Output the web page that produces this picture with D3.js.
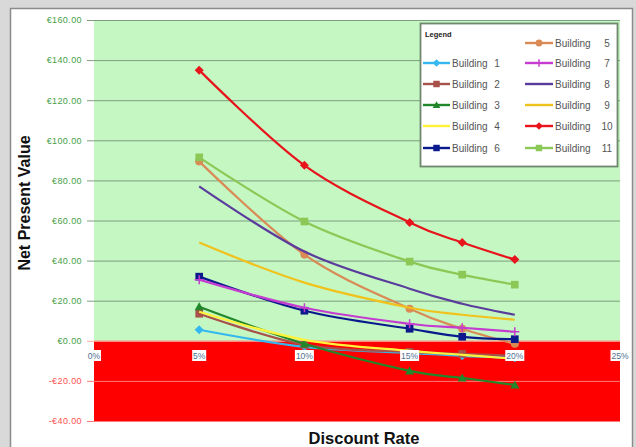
<!DOCTYPE html>
<html>
<head>
<meta charset="utf-8">
<script src="https://cdn.jsdelivr.net/npm/d3@7"></script>
<style>
  html, body { margin: 0; padding: 0; background: #d9d9d9; }
  svg { display: block; font-family: "Liberation Sans", Arial, sans-serif; }
</style>
</head>
<body>
<svg id="chart" width="636" height="447"></svg>
<script>
// Discount rates (%) at which each building's NPV was evaluated
const rates = [5, 10, 15, 17.5, 20];

// Net present value (€) per building
const building1  = [5.5, -3, -6, -7.5, -8.5];
const building2  = [13.5, -2, -5.5, -6.5, -7.5];
const building3  = [17, -1.5, -15, -18.5, -22];
const building4  = [14.5, 0.5, -5, -7, -9];
const building5  = [89.5, 43, 16, 6, -1.5];
const building6  = [32, 15, 6, 2, 0.8];
const building7  = [30.5, 16.5, 8.5, 6.5, 4.5];
const building8  = [77, 44.5, 26, 18.5, 13];
const building9  = [49, 29, 16.5, 13, 10.5];
const building10 = [135, 87.5, 59, 49, 40.5];
const building11 = [91.5, 59.5, 39.5, 33, 28];

const xTicks = [0, 5, 10, 15, 20, 25];
const yTicks = [-40, -20, 0, 20, 40, 60, 80, 100, 120, 140, 160];

// Legend layout order: left column then right column
const series = [
  { name: "Building 1",  values: building1,  color: "#35b8f0", marker: "diamond" },
  { name: "Building 2",  values: building2,  color: "#a8504a", marker: "square" },
  { name: "Building 3",  values: building3,  color: "#22862a", marker: "triangle" },
  { name: "Building 4",  values: building4,  color: "#fff23a", marker: null },
  { name: "Building 6",  values: building6,  color: "#0a1a8c", marker: "square" },
  { name: "Building 5",  values: building5,  color: "#d98a55", marker: "circle" },
  { name: "Building 7",  values: building7,  color: "#c43cd0", marker: "plus" },
  { name: "Building 8",  values: building8,  color: "#5a3c9c", marker: null },
  { name: "Building 9",  values: building9,  color: "#f2c21c", marker: null },
  { name: "Building 10", values: building10, color: "#e8141c", marker: "diamond" },
  { name: "Building 11", values: building11, color: "#8cc855", marker: "square" }
];

// Drawing order (lower numbered series first)
const drawOrder = ["Building 1","Building 2","Building 3","Building 4","Building 5","Building 6",
                   "Building 7","Building 8","Building 9","Building 10","Building 11"];

const svg = d3.select("#chart");

// Chart area frame
svg.append("rect").attr("x", 10.5).attr("y", 8.5).attr("width", 622).attr("height", 440)
  .attr("fill", "#ffffff").attr("stroke", "#8c8c8c").attr("stroke-width", 1.5);

const plot = { left: 94, right: 620, top: 20, bottom: 421 };

const x = d3.scaleLinear().domain([0, 25]).range([plot.left, plot.right]);
const y = d3.scaleLinear().domain([-40, 160]).range([plot.bottom, plot.top]);

// Positive (green) and negative (red) value bands
svg.append("rect").attr("x", plot.left).attr("y", y(160))
  .attr("width", plot.right - plot.left).attr("height", y(0) - y(160))
  .attr("fill", "#c4f7c2");
svg.append("rect").attr("x", plot.left).attr("y", y(0))
  .attr("width", plot.right - plot.left).attr("height", y(-40) - y(0))
  .attr("fill", "#ff0000");

// Horizontal gridlines + y axis ticks
const yAxis = d3.axisLeft(y).tickValues(yTicks).tickSize(plot.right - plot.left + 7)
  .tickFormat(d => (d < 0 ? "-€" : "€") + d3.format(".2f")(Math.abs(d)));
const yg = svg.append("g").attr("transform", `translate(${plot.right},0)`).call(yAxis);
yg.select(".domain").remove();
yg.selectAll(".tick line")
  .attr("stroke", d => d < 0 ? "#ff7a7a" : (d === 0 ? "#ffb0a0" : "#7f9e80"))
  .attr("stroke-width", 1);
yg.selectAll(".tick text")
  .attr("x", -(plot.right - plot.left + 12))
  .attr("font-size", 9)
  .attr("letter-spacing", 0.4)
  .attr("fill", d => d < 0 ? "#ff5050" : "#46a046");

// Series lines
const line = d3.line()
  .x((d, i) => x(rates[i]))
  .y(d => y(d))
  .curve(d3.curveCatmullRom.alpha(0));

const byName = new Map(series.map(s => [s.name, s]));

function drawMarker(g, type, color, cx, cy, size) {
  const s = size;
  if (type === "diamond") {
    g.append("path").attr("d", `M${cx},${cy - s}L${cx + s},${cy}L${cx},${cy + s}L${cx - s},${cy}Z`)
      .attr("fill", color);
  } else if (type === "square") {
    g.append("rect").attr("x", cx - s * 0.85).attr("y", cy - s * 0.85)
      .attr("width", s * 1.7).attr("height", s * 1.7).attr("fill", color);
  } else if (type === "triangle") {
    g.append("path").attr("d", `M${cx},${cy - s}L${cx + s},${cy + s * 0.8}L${cx - s},${cy + s * 0.8}Z`)
      .attr("fill", color);
  } else if (type === "circle") {
    g.append("circle").attr("cx", cx).attr("cy", cy).attr("r", s * 0.9).attr("fill", color);
  } else if (type === "plus") {
    g.append("path").attr("d", `M${cx - s},${cy}H${cx + s}M${cx},${cy - s}V${cy + s}`)
      .attr("stroke", color).attr("stroke-width", 1.5);
  }
}

const linesG = svg.append("g");
drawOrder.forEach(name => {
  const s = byName.get(name);
  const g = linesG.append("g");
  g.append("path").datum(s.values).attr("d", line)
    .attr("fill", "none").attr("stroke", s.color).attr("stroke-width", 2.2)
    .attr("stroke-linejoin", "round");
  if (s.marker) {
    s.values.forEach((v, i) => drawMarker(g, s.marker, s.color, x(rates[i]), y(v), 4.5));
  }
});

// X axis tick labels sitting on white boxes just below zero
const xg = svg.append("g");
xTicks.forEach(t => {
  const label = t + "%";
  const w = label.length * 5 + 4;
  xg.append("rect").attr("x", x(t) - w / 2).attr("y", 350).attr("width", w).attr("height", 11)
    .attr("fill", "#ffffff");
  xg.append("text").attr("x", x(t)).attr("y", 358.5).attr("text-anchor", "middle")
    .attr("font-size", 8.5).attr("fill", "#4f6f8f").text(label);
});

// Axis titles
svg.append("text").attr("transform", "translate(30,203) rotate(-90)")
  .attr("text-anchor", "middle").attr("font-size", 16).attr("font-weight", "bold")
  .attr("fill", "#111").text("Net Present Value");
svg.append("text").attr("x", 364).attr("y", 444)
  .attr("text-anchor", "middle").attr("font-size", 16.5).attr("font-weight", "bold")
  .attr("fill", "#111").text("Discount Rate");

// Legend
const lg = svg.append("g");
lg.append("rect").attr("x", 420.5).attr("y", 23.5).attr("width", 197).attr("height", 143)
  .attr("fill", "#ffffff").attr("stroke", "#6f866f").attr("stroke-width", 1.8);
lg.append("text").attr("x", 425).attr("y", 37).attr("font-size", 7.5).attr("font-weight", "bold")
  .attr("fill", "#222").text("Legend");

const rowY = [43, 63, 84, 105, 126, 148];
const cols = [
  { lineX0: 423, lineX1: 450, textX: 452, numX: 497, rows: [1, 2, 3, 4, 5] },
  { lineX0: 525, lineX1: 553, textX: 555, numX: 607, rows: [0, 1, 2, 3, 4, 5] }
];
let idx = 0;
cols.forEach(c => {
  c.rows.forEach(r => {
    const s = series[idx++];
    const ly = rowY[r];
    lg.append("line").attr("x1", c.lineX0).attr("x2", c.lineX1).attr("y1", ly).attr("y2", ly)
      .attr("stroke", s.color).attr("stroke-width", 2.4);
    if (s.marker) drawMarker(lg, s.marker, s.color, (c.lineX0 + c.lineX1) / 2, ly, 3.8);
    const parts = s.name.split(" ");
    lg.append("text").attr("x", c.textX).attr("y", ly + 3.5).attr("font-size", 10)
      .attr("fill", "#555").text(parts[0]);
    lg.append("text").attr("x", c.numX).attr("y", ly + 3.5).attr("font-size", 10)
      .attr("text-anchor", "middle").attr("fill", "#555").text(parts[1]);
  });
});
</script>
</body>
</html>
